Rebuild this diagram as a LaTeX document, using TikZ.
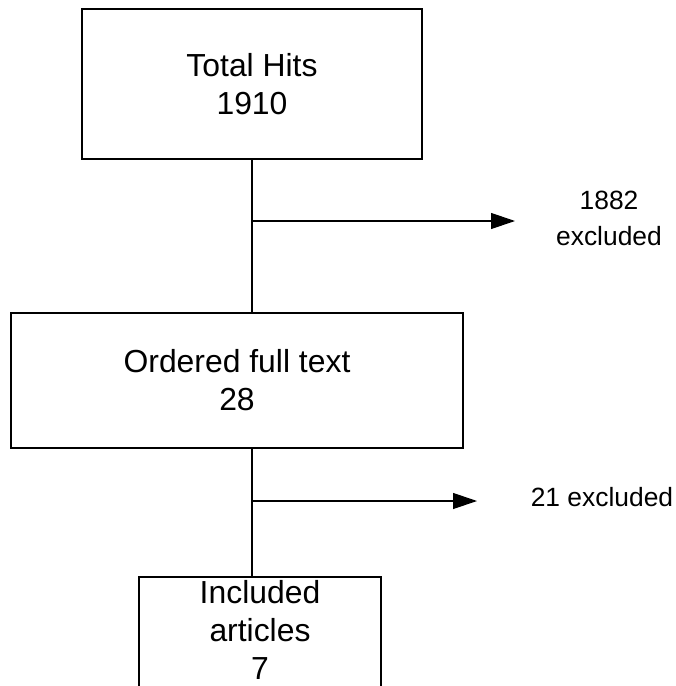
\documentclass[tikz,border=0pt]{standalone}
\usepackage{fontspec}
\setmainfont{Liberation Sans}
\usetikzlibrary{arrows.meta}
\begin{document}
\begin{tikzpicture}[x=1bp,y=-1bp]
  \tikzstyle{box}=[draw,line width=2bp,inner sep=0pt,align=center,font=\fontsize{32}{38}\selectfont]
  \tikzstyle{note}=[align=center,inner sep=0pt,font=\fontsize{26.5}{36}\selectfont]
  \tikzstyle{link}=[line width=1.2bp]
  \tikzstyle{exitarrow}=[link,-{Triangle[length=24bp,width=16bp]}]
  \clip (0,0) rectangle (676,686);
  \node[box,minimum width=340bp,minimum height=150bp] (hits) at (252,84) {Total Hits\\1910};
  \node[box,minimum width=452bp,minimum height=135bp] (fulltext) at (237,380.5) {Ordered full text\\28};
  \node[box,anchor=north,minimum width=242bp,minimum height=150bp] (included) at (260,576) {};
  \node[box,draw=none] (inctext) at (260,630) {Included\\articles\\7};
  % branch points
  \coordinate (split1) at (252,221);
  \coordinate (end1) at (515,221);
  \coordinate (split2) at (252,501);
  \coordinate (end2) at (477,501);
  \node[note] (excl1) at (609,218) {1882\\excluded};
  \node[note] (excl2) at (602,497) {21 excluded};
  \draw[link] (hits.south) -- (hits.south |- fulltext.north);
  \draw[link] (hits.south |- fulltext.south) -- (hits.south |- included.north);
  \draw[exitarrow] (split1) -- (end1);
  \draw[exitarrow] (split2) -- (end2);
\end{tikzpicture}
\end{document}
